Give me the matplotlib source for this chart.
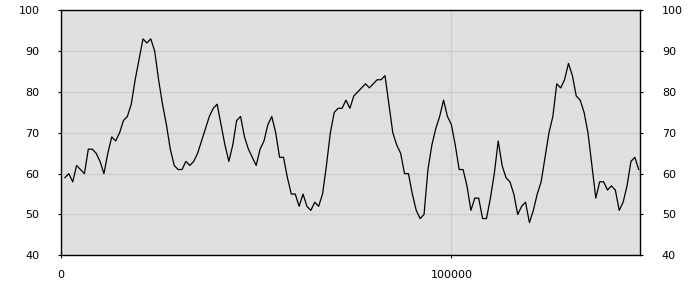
"""
Single series line chart on a grey panel, y ticks mirrored on both sides.
"""

import numpy as np
import matplotlib
matplotlib.use("Agg")
import matplotlib.pyplot as plt

plt.rcParams.update({
    "font.family": "DejaVu Sans",
    "font.size": 8,
})

# ---------------------------------------------------------------------------
# Data (one sample every 1000 units)
# ---------------------------------------------------------------------------

x_start = 1000
x_step = 1000

values = [
    59, 60, 58, 62, 61, 60, 66, 66, 65, 63,
    60, 65, 69, 68, 70, 73, 74, 77, 83, 88,
    93, 92, 93, 90, 83, 77, 72, 66, 62, 61,
    61, 63, 62, 63, 65, 68, 71, 74, 76, 77,
    72, 67, 63, 67, 73, 74, 69, 66, 64, 62,
    66, 68, 72, 74, 70, 64, 64, 59, 55, 55,
    52, 55, 52, 51, 53, 52, 55, 62, 70, 75,
    76, 76, 78, 76, 79, 80, 81, 82, 81, 82,
    83, 83, 84, 77, 70, 67, 65, 60, 60, 55,
    51, 49, 50, 61, 67, 71, 74, 78, 74, 72,
    67, 61, 61, 57, 51, 54, 54, 49, 49, 54,
    60, 68, 62, 59, 58, 55, 50, 52, 53, 48,
    51, 55, 58, 64, 70, 74, 82, 81, 83, 87,
    84, 79, 78, 75, 70, 62, 54, 58, 58, 56,
    57, 56, 51, 53, 57, 63, 64, 61,
]

x = x_start + x_step * np.arange(len(values))

x_ticks = [0, 100000]
y_ticks = [40, 50, 60, 70, 80, 90, 100]

# ---------------------------------------------------------------------------
# Plot
# ---------------------------------------------------------------------------

fig = plt.figure(figsize=(7, 3), dpi=100)
ax = fig.add_axes([61 / 700, (300 - 255.3) / 300, (640.3 - 61) / 700, (255.3 - 10.3) / 300])

ax.set_facecolor("#e0e0e0")
ax.plot(x, values, color="black", linewidth=0.9)

ax.set_xlim(0, 148400)
ax.set_ylim(40, 100)
ax.set_xticks(x_ticks)
ax.set_yticks(y_ticks)

ax.grid(True, color="#cdcdcd", linewidth=1.0)
ax.set_axisbelow(True)

for s in ax.spines.values():
    s.set_color("black")
    s.set_linewidth(1.0)

ax.tick_params(axis="y", which="both", left=True, right=True,
               labelleft=True, labelright=True,
               length=2.5, width=0.8, pad=13, colors="black")
ax.tick_params(axis="x", length=2.5, width=0.8, pad=8, colors="black")

fig.savefig("out.png", dpi=100)
